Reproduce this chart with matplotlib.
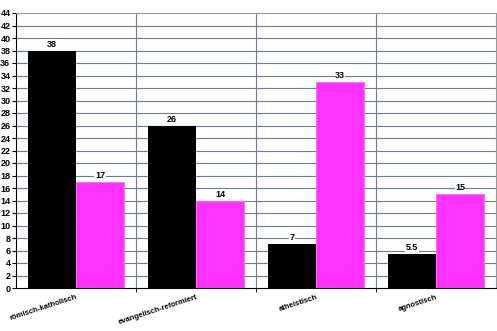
import matplotlib
matplotlib.use("Agg")

import numpy as np
import matplotlib.pyplot as plt

plt.rcParams["font.family"] = ["Liberation Sans", "DejaVu Sans"]

categories = ["römisch-katholisch", "evangelisch-reformiert", "atheistisch", "agnostisch"]
series_black = [38, 26, 7, 5.5]
series_magenta = [17, 14, 33, 15]
labels_black = ["38", "26", "7", "5.5"]
labels_magenta = ["17", "14", "33", "15"]

W, H = 497, 331
fig = plt.figure(figsize=(W/100, H/100), dpi=100)
ax = fig.add_axes([16/W, (H-288)/H, (496-16)/W, (288-13)/H])

x = np.arange(len(categories))
bw = 0.4
b1 = ax.bar(x - bw/2, series_black, bw, color="black", zorder=3)
b2 = ax.bar(x + bw/2, series_magenta, bw, color="#ff33ff", edgecolor="#ff66ff", linewidth=0.6, zorder=3)

for bars, labs in ((b1, labels_black), (b2, labels_magenta)):
    for r, t in zip(bars, labs):
        ax.text(r.get_x() + r.get_width()/2, r.get_height() + 0.3, t,
                ha="center", va="bottom", fontsize=6.5, fontweight="bold",
                bbox=dict(facecolor="white", edgecolor="none", pad=0.3), zorder=4)

ax.set_xlim(-0.5, 3.5)
ax.set_ylim(0, 44)
ax.set_yticks(np.arange(0, 45, 2))
ax.tick_params(axis="y", labelsize=6.5, length=3, pad=1)
for lab in ax.get_yticklabels():
    lab.set_fontweight("bold")

# Gitter
for yv in np.arange(2, 45, 2):
    ax.axhline(yv, color="#6a7c96", linewidth=0.8, zorder=1)
for xv in [0.5, 1.5, 2.5]:
    ax.axvline(xv, color="#6a7c96", linewidth=0.8, zorder=1)

ax.set_xticks(x)
ax.set_xticklabels(categories, rotation=18, ha="right", rotation_mode="anchor",
                   fontsize=5.5, fontweight="bold")
ax.tick_params(axis="x", length=0, pad=4)
ax.set_xticks([0.5, 1.5, 2.5], minor=True)
ax.tick_params(axis="x", which="minor", length=3, direction="out")

ax.spines["left"].set_color("black")
ax.spines["bottom"].set_color("black")
ax.spines["top"].set_color("#999999")
ax.spines["right"].set_color("#999999")

plt.savefig("out.png", dpi=100)
